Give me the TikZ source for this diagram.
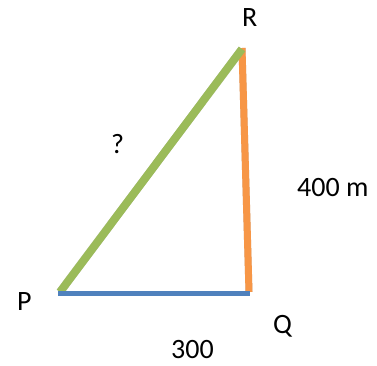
\documentclass[tikz,border=0pt]{standalone}
\usepackage{fontspec}
\setmainfont{Carlito}
\begin{document}
\begin{tikzpicture}[x=1pt,y=-1pt,
  lbl/.style={anchor=base west,inner sep=0pt,font=\fontsize{28}{33}\selectfont},
  shadowline/.style={line width=#1,draw=black,opacity=0.1},
  side/.style={line width=#1}]
\definecolor{sgreen}{HTML}{9BBB59}
\definecolor{sorange}{HTML}{F79646}
\definecolor{sblue}{HTML}{4F81BD}
\useasboundingbox (0,0) rectangle (377,365);
\coordinate (P) at (60,292);
\coordinate (Q) at (250,293);
\coordinate (R) at (242,48);
\coordinate (Pb) at (58,293);
\coordinate (Rg) at (242,49);
\coordinate (Qo) at (249,292);
% shadows
\foreach \dx/\dy in {2/3,3.5/5}{
\begin{scope}[shift={(\dx,\dy)}]
  \draw[shadowline=5pt] (Pb) -- (Q);
  \draw[shadowline=8pt] (P) -- (Rg);
  \draw[shadowline=7pt] (R) -- (Qo);
\end{scope}}
% sides
\draw[side=7pt,sorange] (R) -- (Qo);
\draw[side=8pt,sgreen] (P) -- (Rg);
\draw[side=5pt,sblue] (Pb) -- (Q);
% labels
\node[lbl] (lR) at (242,26.7) {R};
\node[lbl] (lP) at (17,310.7) {P};
\node[lbl] (lQ) at (273,333) {Q};
\node[lbl] (lq) at (111,153) {?};
\node[lbl] (l400) at (297,196.7) {400 m};
\node[lbl] (l300) at (171,358) {300};
\end{tikzpicture}
\end{document}
